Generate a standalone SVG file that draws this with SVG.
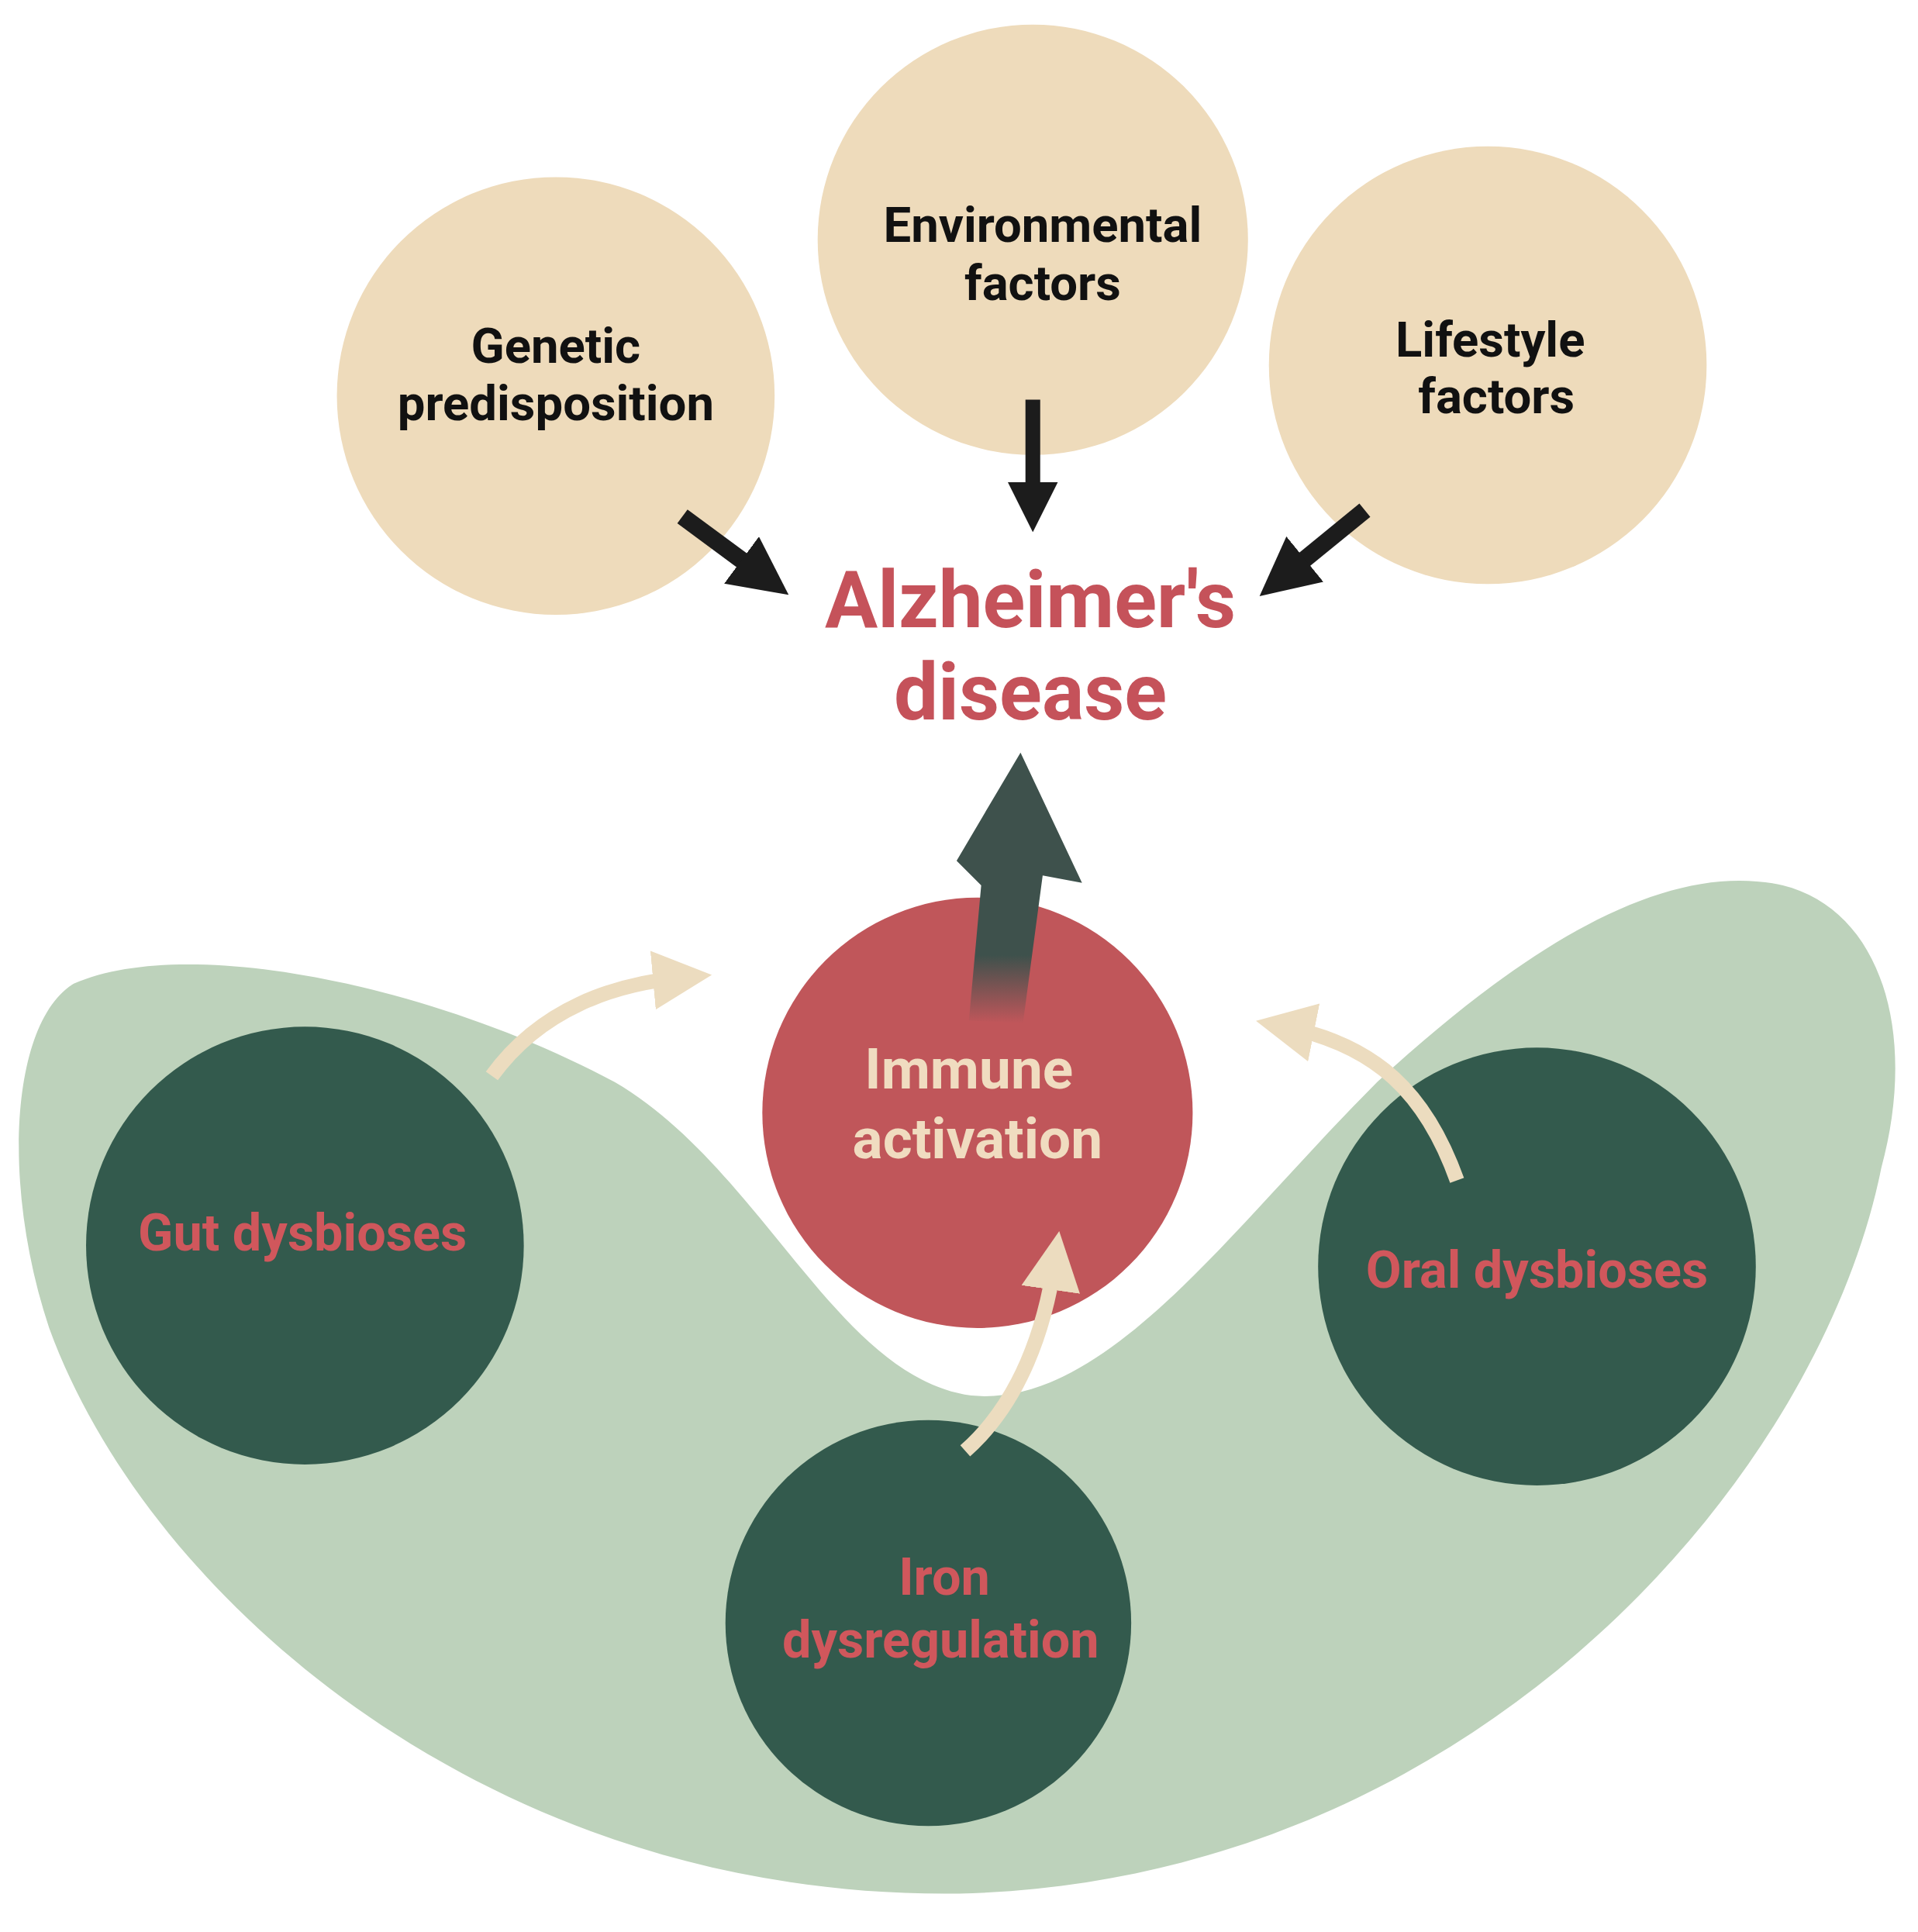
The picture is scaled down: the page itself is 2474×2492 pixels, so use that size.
<svg xmlns="http://www.w3.org/2000/svg" width="2474" height="2492" viewBox="0 0 2474 2492">
<style>
.beige{fill:#eedbbb}.dark{fill:#335a4d}
.t{font-family:Roboto,"Liberation Sans",sans-serif;font-weight:bold;text-anchor:middle}
.blk{fill:#111;font-size:40px}.red{fill:#d0575c;font-size:42px}
</style>
<defs>
<linearGradient id="fadeBig" x1="0" y1="1" x2="0" y2="0"><stop offset="0" stop-color="#3e514c" stop-opacity="0"/><stop offset="0.25" stop-color="#3e514c"/></linearGradient>
<marker id="bk" markerWidth="3.4" markerHeight="3.4" refX="1.5" refY="1.7" orient="auto" markerUnits="strokeWidth"><path d="M0,0 L3.4,1.7 L0,3.4 Z" fill="#1c1c1c"/></marker>
<marker id="bg" markerWidth="4" markerHeight="4" refX="2" refY="2" orient="auto" markerUnits="strokeWidth"><path d="M0,0 L4,2 L0,4 Z" fill="#ecdcbf"/></marker>
</defs>
<rect width="2474" height="2492" fill="#fff"/>
<g transform="scale(1.586)">
<path id="blob" d="M60 800 C150 760 350 800 500 880 C620 950 680 1120 790 1135 C900 1145 1000 1000 1120 880 C1250 760 1360 700 1450 720 C1530 740 1560 840 1530 950 C1480 1200 1200 1530 780 1540 C400 1545 120 1300 40 1080 C0 960 10 830 60 800 Z" fill="#bdd2bb"/>
<g id="genetic"><circle class="beige" cx="452" cy="322" r="178"/><text class="t blk" x="452" y="295">Genetic</text><text class="t blk" x="452" y="342">predisposition</text></g>
<g id="environmental"><circle class="beige" cx="840" cy="195" r="175"/><text class="t blk" x="848" y="197">Environmental</text><text class="t blk" x="848" y="244">factors</text></g>
<g id="lifestyle"><circle class="beige" cx="1210" cy="297" r="178"/><text class="t blk" x="1212" y="290">Lifestyle</text><text class="t blk" x="1217" y="336">factors</text></g>
<g id="alz"><text class="t" x="838" y="510" font-size="64" fill="#c5525a">Alzheimer's</text><text class="t" x="838" y="585" font-size="64" fill="#c5525a">disease</text></g>
<g id="immune"><circle cx="795" cy="905" r="175" fill="#c0565a"/><text class="t" x="788" y="885" font-size="46" fill="#f0dcc0">Immune</text><text class="t" x="795" y="942" font-size="46" fill="#f0dcc0">activation</text></g>
<g id="gut"><circle class="dark" cx="248" cy="1013" r="178"/><text class="t red" x="246" y="1017">Gut dysbioses</text></g>
<g id="oral"><circle class="dark" cx="1250" cy="1030" r="178"/><text class="t red" x="1250" y="1047">Oral dysbioses</text></g>
<g id="iron"><circle class="dark" cx="755" cy="1320" r="165"/><text class="t red" x="768" y="1297">Iron</text><text class="t red" x="765" y="1348">dysregulation</text></g>
<g id="connectors">
<path d="M555 420 L620 468" stroke="#1c1c1c" stroke-width="14" marker-end="url(#bk)" fill="none"/>
<path d="M840 325 L840 410" stroke="#1c1c1c" stroke-width="12" marker-end="url(#bk)" fill="none"/>
<path d="M1110 415 L1045 468" stroke="#1c1c1c" stroke-width="14" marker-end="url(#bk)" fill="none"/>
<path d="M788 830 L798 720 L778 700 L830 612 L880 718 L848 712 L832 832 Z" fill="url(#fadeBig)"/>
<path d="M400 875 C440 820 500 800 555 795" stroke="#ecdcbf" stroke-width="12" fill="none" marker-end="url(#bg)"/>
<path d="M1185 960 C1160 890 1120 850 1045 835" stroke="#ecdcbf" stroke-width="12" fill="none" marker-end="url(#bg)"/>
<path d="M785 1180 C830 1140 850 1080 858 1025" stroke="#ecdcbf" stroke-width="12" fill="none" marker-end="url(#bg)"/>
</g>
</g>
</svg>
